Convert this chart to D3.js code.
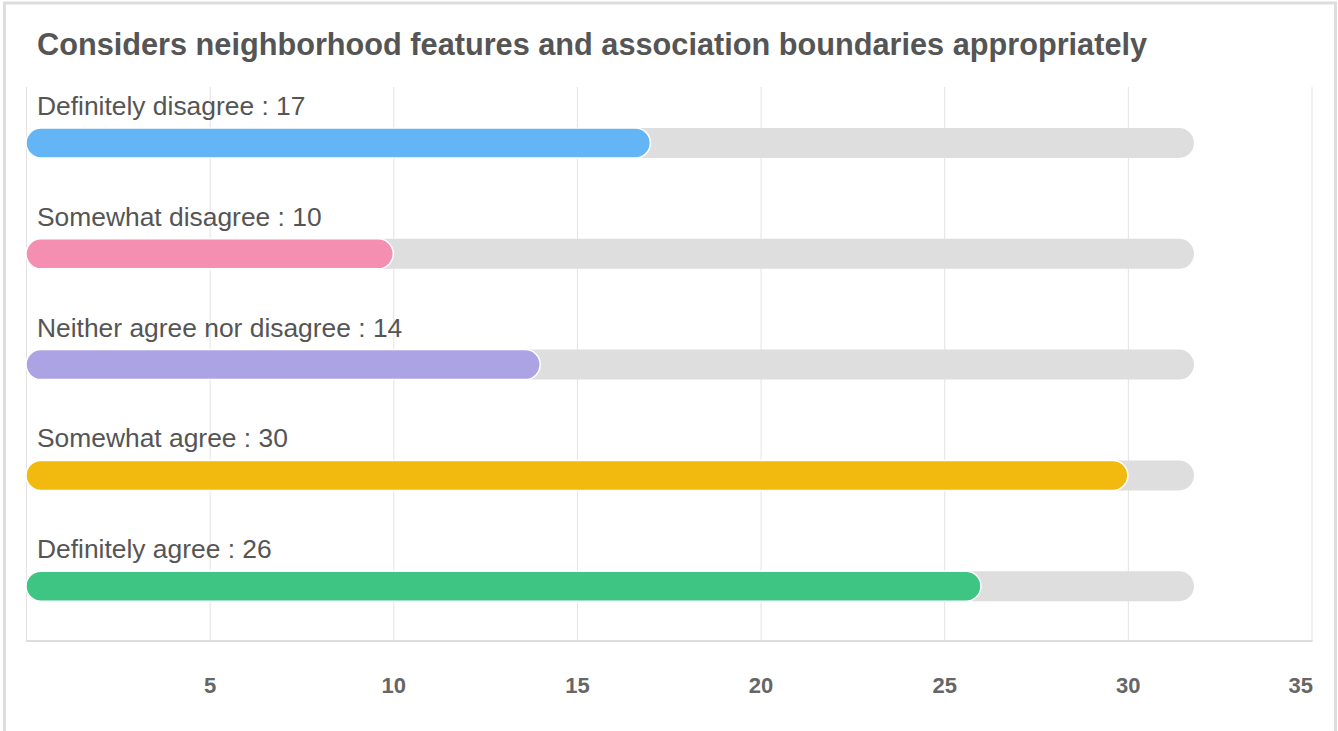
<!DOCTYPE html>
<html>
<head>
<meta charset="utf-8">
<script src="https://cdn.jsdelivr.net/npm/d3@7"></script>
<style>
  body { margin: 0; background: #fff; }
  svg { display: block; font-family: "Liberation Sans", Arial, Helvetica, sans-serif; }
</style>
</head>
<body>
<div id="chart"></div>
<script>
// Data
const title = 'Considers neighborhood features and association boundaries appropriately';
const categories = ['Definitely disagree', 'Somewhat disagree', 'Neither agree nor disagree', 'Somewhat agree', 'Definitely agree'];
const values = [17, 10, 14, 30, 26];
const colors = ['#64b5f6', '#f48fb1', '#aca3e5', '#f2b90f', '#3ec483'];
const trackMax = 31.8;
const tickValues = [5, 10, 15, 20, 25, 30, 35];

// Layout
const width = 1338,
      height = 731;
const margin = { top: 87, right: 26, bottom: 90, left: 26 };
const barHeight = 30;

const svg = d3.select('#chart').append('svg')
    .attr('width', width)
    .attr('height', height);

// Outer frame (bottom edge runs off the page)
svg.append('rect')
    .attr('x', 4.5)
    .attr('y', 3)
    .attr('width', width - 7)
    .attr('height', height + 20)
    .attr('fill', 'none')
    .attr('stroke', '#dddddd')
    .attr('stroke-width', 3);

// Title
svg.append('text')
    .attr('x', 37)
    .attr('y', 55)
    .attr('font-size', '30.7px')
    .attr('font-weight', 'bold')
    .attr('fill', '#555555')
    .text(title);

// Scales
const x = d3.scaleLinear()
    .domain([0, 35])
    .range([margin.left, width - margin.right - 0.5]);

const y = d3.scaleBand()
    .domain(categories)
    .range([margin.top, height - margin.bottom]);

const plotBottom = height - margin.bottom;

// Gridlines
svg.append('g')
    .attr('transform', `translate(0, ${plotBottom})`)
    .call(d3.axisBottom(x).tickValues([0].concat(tickValues)).tickSize(-(plotBottom - margin.top)).tickFormat(''))
    .call(g => g.select('.domain').remove())
    .call(g => g.selectAll('.tick line').attr('stroke', '#e3e3e3'));

// Bottom axis line
svg.append('line')
    .attr('x1', x(0))
    .attr('x2', x(35) + 1)
    .attr('y1', plotBottom)
    .attr('y2', plotBottom)
    .attr('stroke', '#dddddd')
    .attr('stroke-width', 2);

// Tick labels
svg.append('g')
    .attr('transform', `translate(0, ${plotBottom})`)
    .call(d3.axisBottom(x).tickValues(tickValues).tickSize(0).tickPadding(0))
    .call(g => g.select('.domain').remove())
    .call(g => g.selectAll('.tick text')
        .attr('y', 52)
        .attr('dy', null)
        .attr('font-size', '22px')
        .attr('font-weight', 'bold')
        .attr('font-family', '"Liberation Sans", Arial, sans-serif')
        .attr('fill', '#666666')
        .attr('text-anchor', d => d === 35 ? 'end' : 'middle')
        .attr('dx', d => d === 35 ? 1 : 0));

// Rows
const rows = svg.append('g')
    .selectAll('g')
    .data(categories)
    .enter().append('g')
    .attr('transform', d => `translate(0, ${y(d)})`);

// Background tracks
rows.append('rect')
    .attr('x', x(0))
    .attr('y', 41)
    .attr('width', x(trackMax) - x(0))
    .attr('height', barHeight)
    .attr('rx', barHeight / 2)
    .attr('fill', '#dedede');

// Value bars
rows.append('rect')
    .attr('x', x(0))
    .attr('y', 41)
    .attr('width', (d, i) => x(values[i]) - x(0))
    .attr('height', barHeight)
    .attr('rx', barHeight / 2)
    .attr('fill', (d, i) => colors[i])
    .attr('stroke', '#ffffff')
    .attr('stroke-width', 1.5);

// Labels
rows.append('text')
    .attr('x', 37)
    .attr('y', 28)
    .attr('font-size', '26.4px')
    .attr('fill', '#555555')
    .text((d, i) => `${d} : ${values[i]}`);
</script>
</body>
</html>
